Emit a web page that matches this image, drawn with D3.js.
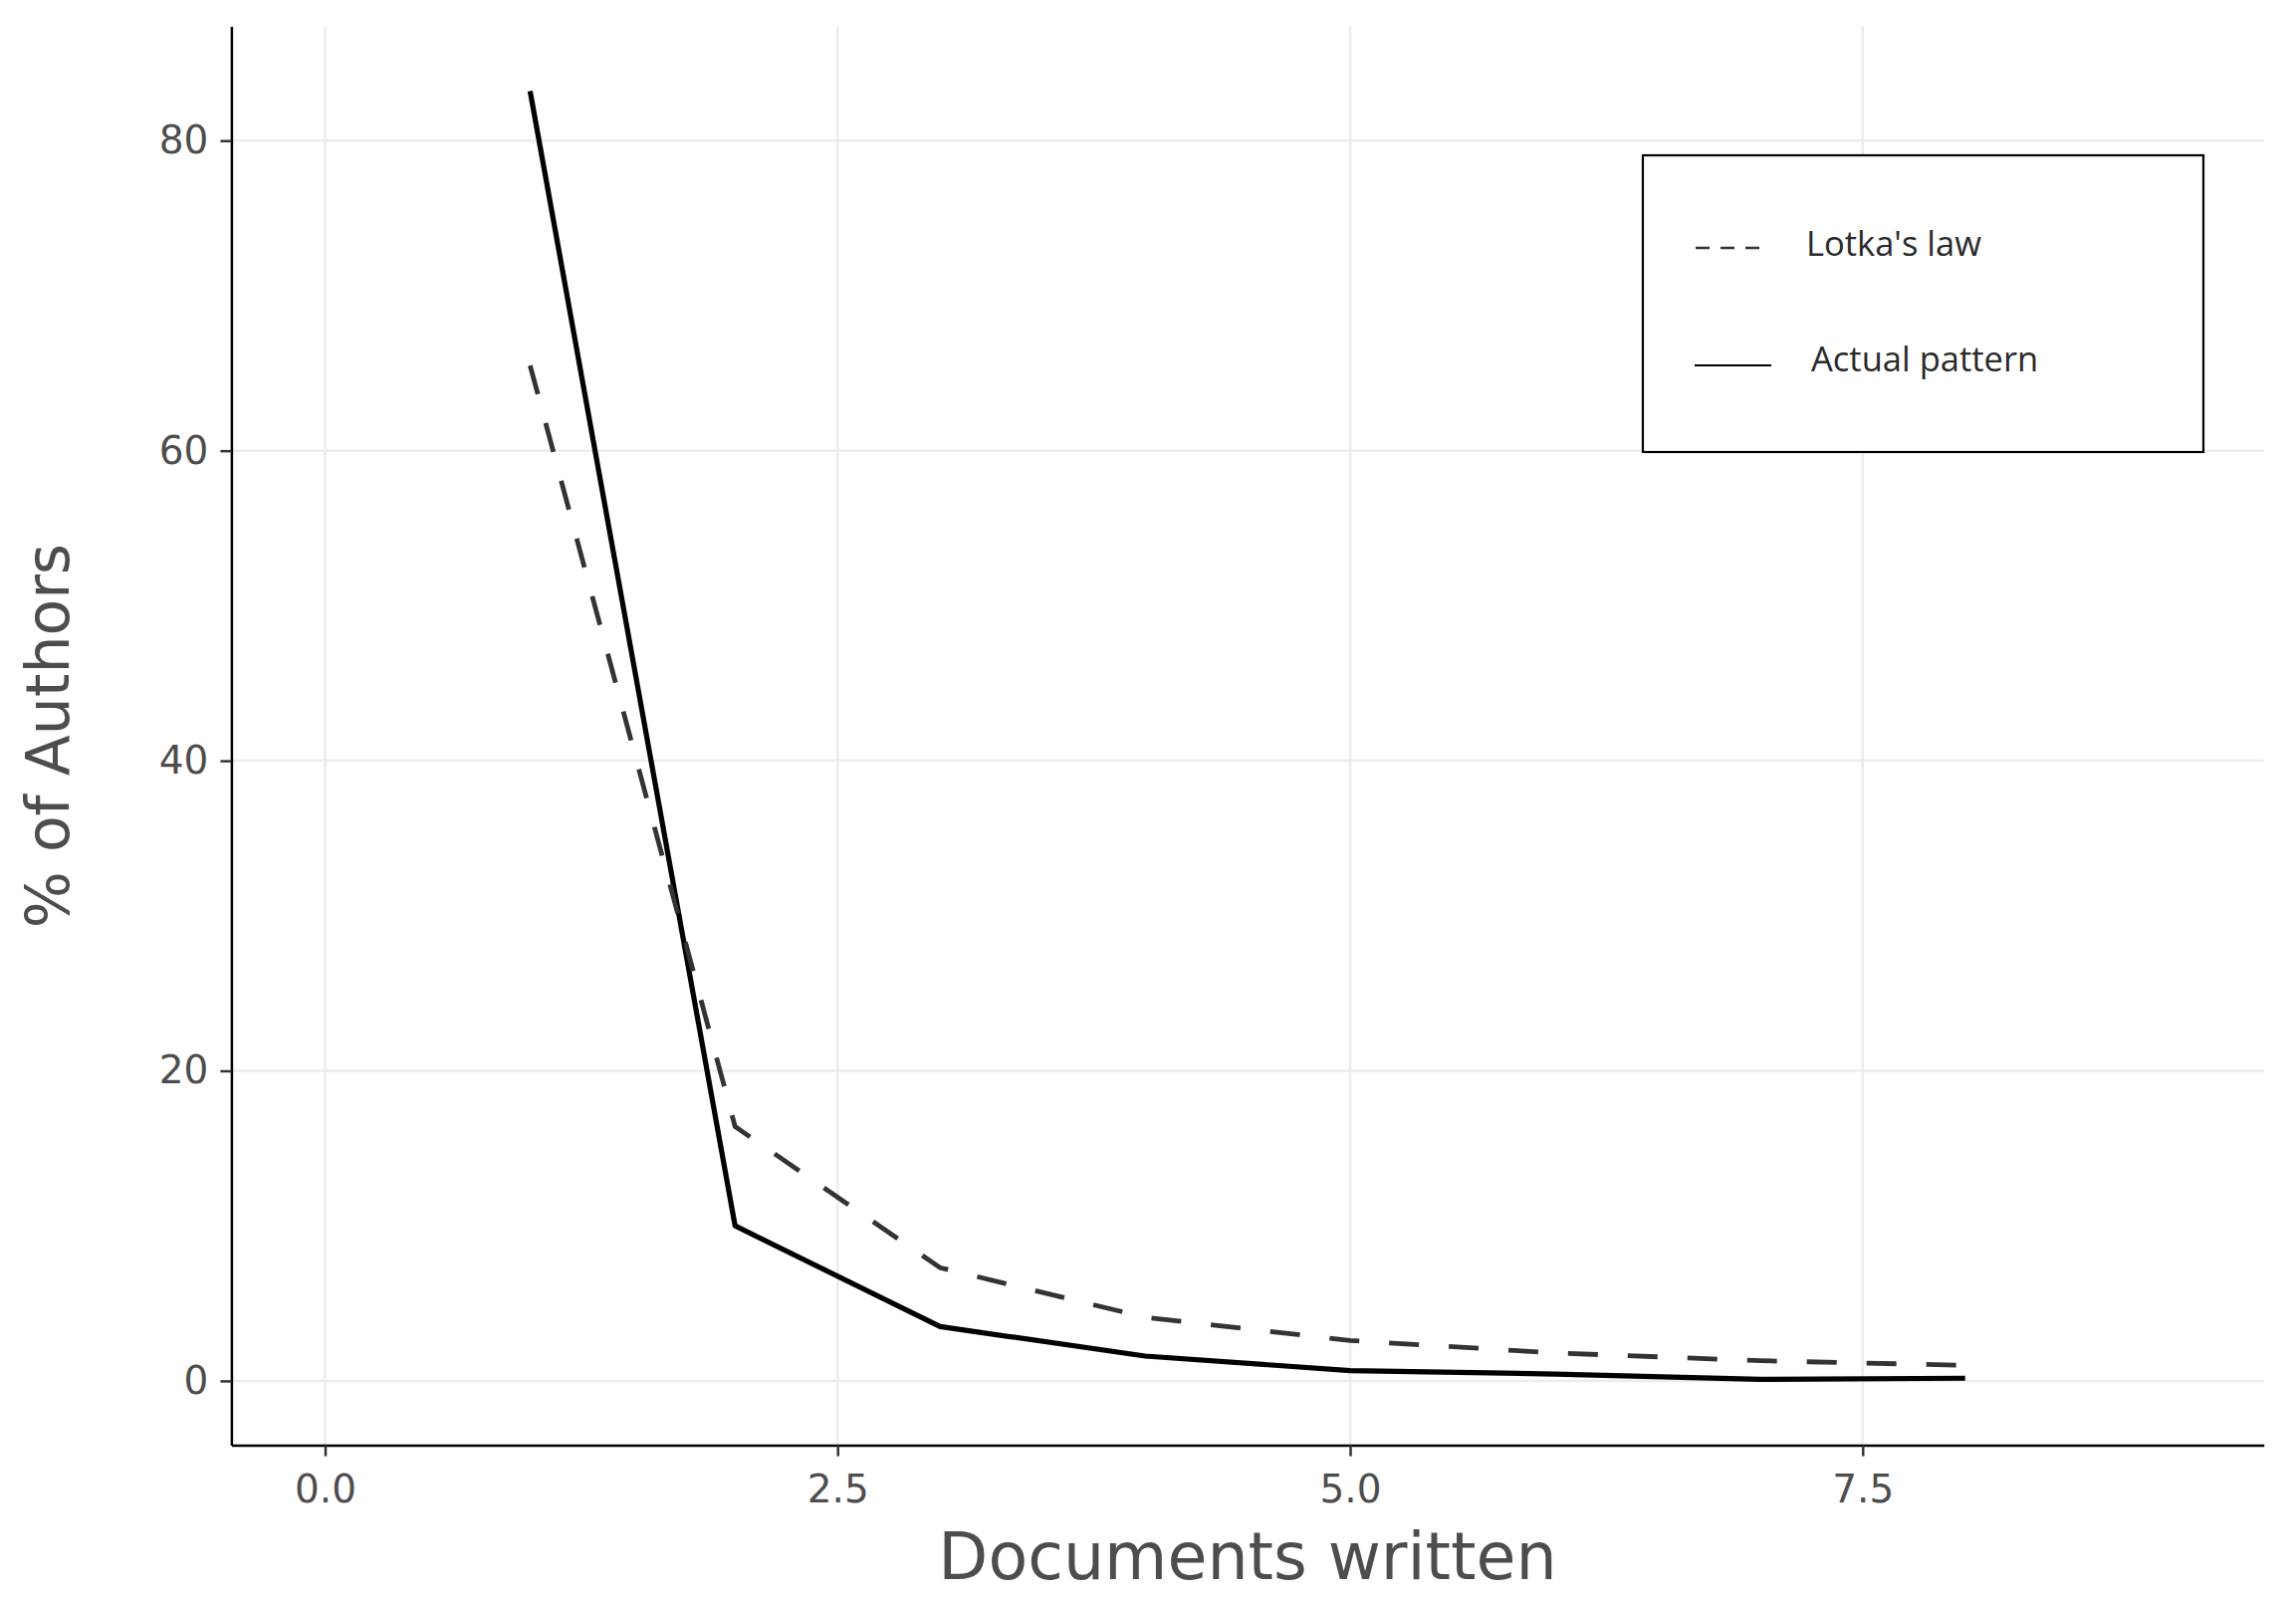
<!DOCTYPE html>
<html>
<head>
<meta charset="utf-8">
<script src="https://cdn.jsdelivr.net/npm/d3@7"></script>
<style>
  html, body { margin: 0; padding: 0; background: #ffffff; }
  svg { display: block; }
</style>
</head>
<body>
<svg id="chart" width="2306" height="1604"></svg>
<script>
// ---- data ----
const documentsWritten = [1, 2, 3, 4, 5, 6, 7, 8];
const lotkasLaw = [65.5, 16.4, 7.3, 4.1, 2.6, 1.8, 1.3, 1.0];
const actualPattern = [83.2, 10.0, 3.5, 1.6, 0.66, 0.44, 0.1, 0.17];
const xTicks = [0, 2.5, 5, 7.5];
const yTicks = [0, 20, 40, 60, 80];
const seriesNames = ["Lotka's law", "Actual pattern"];
const xTitle = "Documents written";
const yTitle = "% of Authors";

// ---- layout ----
const W = 2306, H = 1604;
const panel = { left: 232.4, right: 2273.7, top: 26.5, bottom: 1451.6 };

const svg = d3.select("#chart");
svg.append("rect").attr("width", W).attr("height", H).attr("fill", "#ffffff");

const x = d3.scaleLinear().domain([-0.457, 9.457]).range([panel.left, panel.right]);
const y = d3.scaleLinear().domain([-4.155, 87.37]).range([panel.bottom, panel.top]);

// grid
const grid = svg.append("g");
grid.selectAll("line.gx").data(xTicks).join("line")
  .attr("x1", d => x(d)).attr("x2", d => x(d))
  .attr("y1", panel.top).attr("y2", panel.bottom)
  .attr("stroke", "#ececec").attr("stroke-width", 2.5);
grid.selectAll("line.gy").data(yTicks).join("line")
  .attr("x1", panel.left).attr("x2", panel.right)
  .attr("y1", d => y(d)).attr("y2", d => y(d))
  .attr("stroke", "#ececec").attr("stroke-width", 2.5);

// lines
const pts = (vals) => documentsWritten.map((d, i) => [d, vals[i]]);
const line = d3.line().x(d => x(d[0])).y(d => y(d[1]));

svg.append("path").datum(pts(actualPattern))
  .attr("d", line).attr("fill", "none")
  .attr("stroke", "#000000").attr("stroke-width", 5.2)
  .attr("stroke-linejoin", "round");

svg.append("path").datum(pts(lotkasLaw))
  .attr("d", line).attr("fill", "none")
  .attr("stroke", "#333333").attr("stroke-width", 4.8)
  .attr("stroke-dasharray", "30,30");

// axes
const fmt = d3.format(".1f");
const xAxis = svg.append("g").attr("transform", `translate(0,${panel.bottom})`)
  .call(d3.axisBottom(x).tickValues(xTicks).tickFormat(fmt).tickSize(11).tickPadding(19).tickSizeOuter(0));
const yAxis = svg.append("g").attr("transform", `translate(${panel.left},0)`)
  .call(d3.axisLeft(y).tickValues(yTicks).tickFormat(d3.format("d")).tickSize(11).tickPadding(12).tickSizeOuter(0));

[xAxis, yAxis].forEach(a => {
  a.select(".domain").attr("stroke", "#000000").attr("stroke-width", 2.5);
  a.selectAll(".tick line").attr("stroke", "#333333").attr("stroke-width", 2.5);
  a.selectAll(".tick text")
    .attr("fill", "#4d4d4d")
    .attr("font-family", "'DejaVu Sans', sans-serif")
    .attr("font-size", 39);
});

// axis titles
svg.append("text")
  .attr("x", (panel.left + panel.right) / 2).attr("y", 1586)
  .attr("text-anchor", "middle")
  .attr("font-family", "'DejaVu Sans', sans-serif")
  .attr("font-size", 65).attr("fill", "#4d4d4d")
  .text(xTitle);

svg.append("text")
  .attr("transform", `translate(47,${(panel.top + panel.bottom) / 2}) rotate(-90)`)
  .attr("text-anchor", "middle").attr("dy", "0.36em")
  .attr("font-family", "'DejaVu Sans', sans-serif")
  .attr("font-size", 60).attr("fill", "#4d4d4d")
  .text(yTitle);

// legend
const lg = svg.append("g");
lg.append("rect")
  .attr("x", 1650).attr("y", 156).attr("width", 563).attr("height", 298)
  .attr("fill", "#ffffff").attr("stroke", "#000000").attr("stroke-width", 2.2);

lg.append("line")
  .attr("x1", 1703).attr("x2", 1767).attr("y1", 249).attr("y2", 249)
  .attr("stroke", "#333333").attr("stroke-width", 2.4)
  .attr("stroke-dasharray", "14,11");
lg.append("line")
  .attr("x1", 1702).attr("x2", 1779).attr("y1", 367).attr("y2", 367)
  .attr("stroke", "#000000").attr("stroke-width", 2);

lg.append("text")
  .attr("x", 1814).attr("y", 257)
  .attr("font-family", "'Open Sans', sans-serif")
  .attr("font-size", 34.5).attr("fill", "#2a2a2a")
  .text(seriesNames[0]);
lg.append("text")
  .attr("x", 1819).attr("y", 373)
  .attr("font-family", "'Open Sans', sans-serif")
  .attr("font-size", 34.5).attr("fill", "#2a2a2a")
  .text(seriesNames[1]);
</script>
</body>
</html>
